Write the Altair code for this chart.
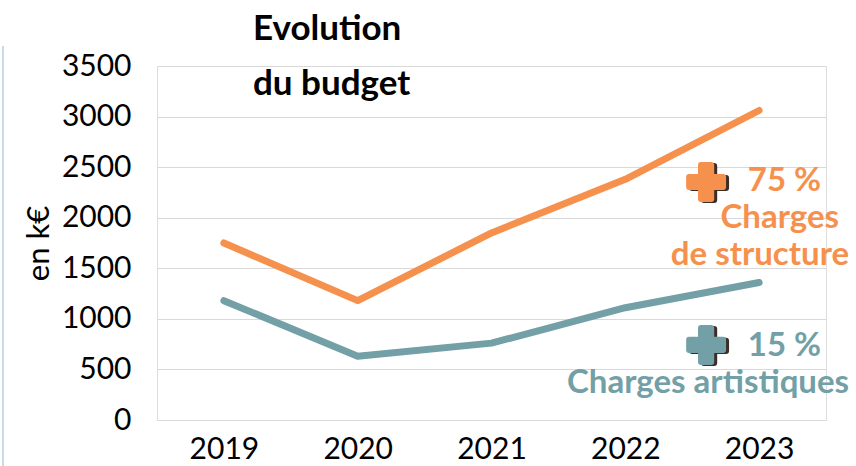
import altair as alt
import pandas as pd

years = ["2019", "2020", "2021", "2022", "2023"]
structure = [1750, 1180, 1850, 2380, 3060]
artistiques = [1180, 630, 760, 1110, 1360]
series_names = ["Charges de structure", "Charges artistiques"]
colors = ["#F6914D", "#72A0A6"]
y_ticks = [0, 500, 1000, 1500, 2000, 2500, 3000, 3500]

FONT = "Lato"

df = pd.DataFrame(
    {
        "year": years * 2,
        "value": structure + artistiques,
        "serie": [series_names[0]] * 5 + [series_names[1]] * 5,
    }
)

x_enc = alt.X(
    "year:N",
    sort=years,
    scale=alt.Scale(type="point", padding=0.5),
    axis=alt.Axis(
        title=None, labelAngle=0, labelFontSize=30, labelFont=FONT, labelColor="#000",
        ticks=False, domain=False, grid=False, labelPadding=14,
    ),
)
y_enc = alt.Y(
    "value:Q",
    scale=alt.Scale(domain=[0, 3500], nice=False),
    axis=alt.Axis(
        title="en k€", values=y_ticks, format="d", labelFontSize=30, labelFont=FONT, labelColor="#000",
        titleFontSize=31, titleFont=FONT, titleFontWeight="normal", titleColor="#000",
        titlePadding=6, ticks=False, domain=False, gridColor="#D9D9D9", gridWidth=1.2,
        labelPadding=26,
    ),
)

lines = alt.Chart(df).mark_line(strokeWidth=7, strokeCap="round", strokeJoin="round").encode(
    x=x_enc,
    y=y_enc,
    color=alt.Color("serie:N", scale=alt.Scale(domain=series_names, range=colors), legend=None),
)

# annotations
ann_year = "2023"
plus_vals = [2353, 742]
plus_df = pd.DataFrame({"year": [ann_year] * 2, "value": plus_vals, "c": colors})
plus_path = "M-0.3,-1H0.3V-0.3H1V0.3H0.3V1H-0.3V0.3H-1V-0.3H-0.3Z"

plus_shadow = alt.Chart(plus_df).mark_point(
    shape=plus_path, size=1150, filled=True, opacity=1, color="#3B2E28",
    stroke="#3B2E28", strokeWidth=6, strokeJoin="round", xOffset=-50, yOffset=1,
).encode(x=alt.X("year:N", sort=years), y="value:Q")
plus = alt.Chart(plus_df).mark_point(
    shape=plus_path, size=1150, filled=True, opacity=1, strokeWidth=6, strokeJoin="round",
    xOffset=-53,
).encode(
    x=alt.X("year:N", sort=years), y="value:Q",
    fill=alt.Fill("c:N", scale=None), stroke=alt.Stroke("c:N", scale=None),
)

def txt(text, value, color, dx):
    d = pd.DataFrame({"year": [ann_year], "value": [value], "t": [text]})
    return alt.Chart(d).mark_text(
        font=FONT, fontSize=33, fontWeight="bold", color=color, align="right",
        baseline="middle", dx=dx,
    ).encode(x=alt.X("year:N", sort=years), y="value:Q", text="t:N")

texts = [
    txt("75 %", 2363, colors[0], 62),
    txt("Charges", 1997, colors[0], 80),
    txt("de structure", 1631, colors[0], 90),
    txt("15 %", 732, colors[1], 62),
    txt("Charges artistiques", 366, colors[1], 90),
]

edge = alt.Chart(pd.DataFrame({"a": [0]})).mark_rule(color="#C9DCE8", strokeWidth=2).encode(
    x=alt.value(-154), y=alt.value(-20), y2=alt.value(400)
)

chart = alt.layer(edge, lines, plus_shadow, plus, *texts).properties(
    width=669,
    height=354,
    padding={"left": 157, "top": 66, "right": 30, "bottom": 46},
    autosize=alt.AutoSizeParams(type="none"),
    title=alt.TitleParams(
        text=["Evolution", "du budget"], anchor="start", frame="group", dx=96, dy=96,
        fontSize=35, font=FONT, fontWeight="bold", color="#000", lineHeight=55,
        baseline="bottom",
    ),
).configure_view(stroke=None).configure(background="white")

chart.save("out.html", embed_options={"renderer": "svg", "actions": False})
